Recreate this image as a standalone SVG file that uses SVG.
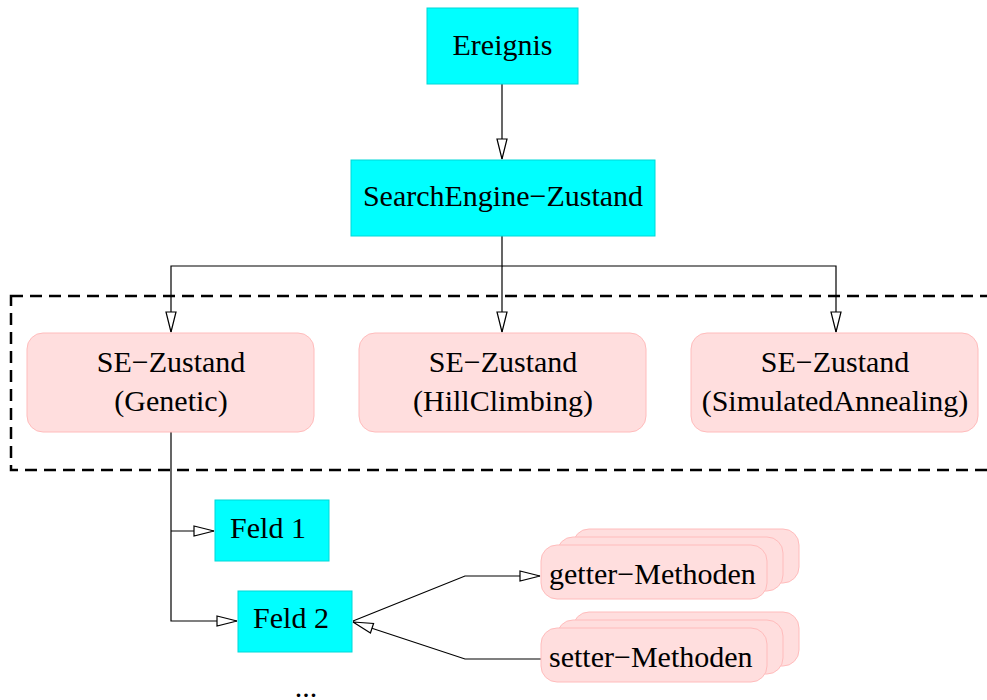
<svg xmlns="http://www.w3.org/2000/svg" width="987" height="700" viewBox="0 0 987 700">
<style>
text{font-family:"Liberation Serif","Times New Roman",serif;font-size:30px;fill:#000}
.c{text-anchor:middle}
.cy{fill:#00ffff;stroke:#00d8d8;stroke-width:1}
.pk{fill:#ffdede;stroke:#ffbcbc;stroke-width:1}
.e{fill:none;stroke:#000;stroke-width:1.2}
</style>
<defs>
<marker id="a" markerUnits="userSpaceOnUse" markerWidth="24" markerHeight="14" refX="21" refY="6" orient="auto" overflow="visible">
<path d="M1,1 L21,6 L1,11 Z" fill="#fff" stroke="#000" stroke-width="1.2"/>
</marker>
</defs>
<rect x="11" y="296" width="990" height="174" fill="none" stroke="#000" stroke-width="2.5" stroke-dasharray="12 7"/>
<g id="connectors">
<path class="e" d="M502,84 V159" marker-end="url(#a)"/>
<path class="e" d="M502,236 V266 H171 V332" marker-end="url(#a)"/>
<path class="e" d="M502,266 V332" marker-end="url(#a)"/>
<path class="e" d="M502,266 H836 V332" marker-end="url(#a)"/>
<path class="e" d="M171,432 V621 H237" marker-end="url(#a)"/>
<path class="e" d="M171,531 H214" marker-end="url(#a)"/>
<path class="e" d="M353,621 L465,576 H540" marker-end="url(#a)"/>
<path class="e" d="M541,659 H465 L353,622" marker-end="url(#a)"/>
</g>
<g id="ereignis">
<rect class="cy" x="427" y="8" width="151" height="76"/>
<text class="c" x="502.5" y="55">Ereignis</text>
</g>
<g id="searchengine">
<rect class="cy" x="351" y="160" width="304" height="76"/>
<text class="c" x="503" y="206">SearchEngine−Zustand</text>
</g>
<g id="genetic">
<rect class="pk" x="27" y="333" width="287" height="99" rx="16"/>
<text class="c" x="171" y="372">SE−Zustand</text>
<text class="c" x="171" y="411">(Genetic)</text>
</g>
<g id="hillclimbing">
<rect class="pk" x="359" y="333" width="287" height="99" rx="16"/>
<text class="c" x="503" y="372">SE−Zustand</text>
<text class="c" x="503" y="411">(HillClimbing)</text>
</g>
<g id="simulatedannealing">
<rect class="pk" x="691" y="333" width="287" height="99" rx="16"/>
<text class="c" x="835" y="372">SE−Zustand</text>
<text class="c" x="835" y="411">(SimulatedAnnealing)</text>
</g>
<g id="feld1">
<rect class="cy" x="215" y="500" width="114" height="61"/>
<text class="c" x="268" y="538">Feld 1</text>
</g>
<g id="feld2">
<rect class="cy" x="238" y="591" width="114" height="61"/>
<text class="c" x="291" y="628">Feld 2</text>
</g>
<g id="getter">
<rect class="pk" x="573" y="529" width="226" height="54" rx="16"/>
<rect class="pk" x="557" y="537" width="226" height="54" rx="16"/>
<rect class="pk" x="541" y="545" width="226" height="54" rx="16"/>
<text x="549" y="584">getter−Methoden</text>
</g>
<g id="setter">
<rect class="pk" x="573" y="612" width="226" height="54" rx="16"/>
<rect class="pk" x="557" y="620" width="226" height="54" rx="16"/>
<rect class="pk" x="541" y="628" width="226" height="54" rx="16"/>
<text x="549" y="667">setter−Methoden</text>
</g>
<g id="more">
<text class="c" x="306" y="697">...</text>
</g>
</svg>
